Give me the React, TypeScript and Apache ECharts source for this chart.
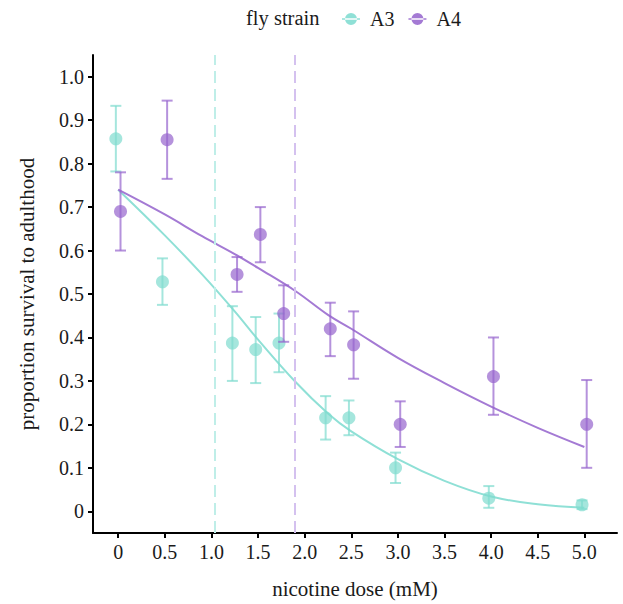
import React, { useEffect, useRef } from "react";
import * as echarts from "echarts";

// ---- data ----
const doses = [0, 0.5, 1.25, 1.5, 1.75, 2.25, 2.5, 3.0, 4.0, 5.0];

const a3Mean = [0.857, 0.528, 0.387, 0.372, 0.387, 0.215, 0.215, 0.1, 0.03, 0.015];
const a3Lo = [0.782, 0.475, 0.3, 0.295, 0.32, 0.165, 0.175, 0.065, 0.008, 0.005];
const a3Hi = [0.933, 0.582, 0.472, 0.447, 0.455, 0.265, 0.255, 0.135, 0.058, 0.025];

const a4Mean = [0.69, 0.855, 0.545, 0.637, 0.455, 0.42, 0.383, 0.2, 0.31, 0.2];
const a4Lo = [0.6, 0.765, 0.505, 0.573, 0.39, 0.357, 0.305, 0.148, 0.222, 0.1];
const a4Hi = [0.78, 0.945, 0.585, 0.7, 0.52, 0.48, 0.46, 0.253, 0.4, 0.302];

const fitX = [0, 0.5, 0.9, 1.25, 1.5, 1.9, 2.25, 2.5, 3.0, 3.5, 4.0, 4.5, 5.0];
const a3Fit = [0.74, 0.635, 0.545, 0.46, 0.395, 0.298, 0.225, 0.184, 0.12, 0.07, 0.034, 0.016, 0.008];
const a4Fit = [0.74, 0.683, 0.633, 0.592, 0.56, 0.507, 0.452, 0.42, 0.353, 0.295, 0.241, 0.192, 0.148];

const a3Ld50 = 1.04;
const a4Ld50 = 1.89;

const xTicks = [0, 0.5, 1, 1.5, 2, 2.5, 3, 3.5, 4, 4.5, 5];
const yTicks = [0, 0.1, 0.2, 0.3, 0.4, 0.5, 0.6, 0.7, 0.8, 0.9, 1.0];

const DODGE = 0.025;
const FONT = "Liberation Serif, Times New Roman, serif";

const TEAL_LINE = "#8fe0d6";
const TEAL_PT = "rgba(127,219,207,0.7)";
const TEAL_DASH = "#bfeee8";
const PURP_LINE = "#a47ad4";
const PURP_PT = "rgba(150,100,205,0.7)";
const PURP_DASH = "#d4c1ef";
const TXT = "#1a1a1a";

const ICON =
  "path://M0,5.2L18,5.2L18,6.8L0,6.8Z M3,6A6,6 0 1 0 15,6A6,6 0 1 0 3,6Z";

function pointSeries(name: string, mean: number[], lo: number[], hi: number[], off: number, col: string) {
  return {
    type: "custom",
    name,
    z: 5,
    itemStyle: { color: col },
    data: doses.map((d, i) => [d + off, mean[i], lo[i], hi[i]]),
    renderItem: (params: any, api: any) => {
      const x = api.value(0);
      const p = api.coord([x, api.value(1)]);
      const pl = api.coord([x, api.value(2)]);
      const ph = api.coord([x, api.value(3)]);
      const cw = 5.5;
      const st = { stroke: col, lineWidth: 2 };
      return {
        type: "group",
        children: [
          { type: "line", shape: { x1: p[0], y1: pl[1], x2: p[0], y2: ph[1] }, style: st },
          { type: "line", shape: { x1: p[0] - cw, y1: pl[1], x2: p[0] + cw, y2: pl[1] }, style: st },
          { type: "line", shape: { x1: p[0] - cw, y1: ph[1], x2: p[0] + cw, y2: ph[1] }, style: st },
          { type: "circle", shape: { cx: p[0], cy: p[1], r: 6.5 }, style: { fill: col } },
        ],
      };
    },
  };
}

function fitSeries(name: string, fit: number[], col: string, ld: number, dash: string) {
  return {
    type: "line",
    name,
    smooth: 0.4,
    showSymbol: false,
    symbol: "none",
    z: 3,
    itemStyle: { color: col },
    lineStyle: { color: col, width: 2 },
    data: fitX.map((x, i) => [x, fit[i]]),
    markLine: {
      silent: true,
      symbol: "none",
      label: { show: false },
      lineStyle: { color: dash, width: 2, type: [12, 6] },
      data: [{ xAxis: ld }],
      animation: false,
    },
  };
}

const fmt = (v: number) => (Math.abs(v) < 1e-9 ? "0" : v.toFixed(1));

export default function App() {
  const ref = useRef<HTMLDivElement>(null);
  useEffect(() => {
    if (!ref.current) return;
    const chart = echarts.init(ref.current, null, { renderer: "svg" });
    const labelStyle = { fontFamily: FONT, fontSize: 20, color: TXT };
    chart.setOption({
      animation: false,
      backgroundColor: "#ffffff",
      textStyle: { fontFamily: FONT },
      graphic: [
        {
          type: "text",
          left: 246,
          top: 7,
          style: { text: "fly strain", fontFamily: FONT, fontSize: 20.5, fill: TXT },
        },
      ],
      legend: {
        left: 337,
        top: 4,
        itemWidth: 18,
        itemHeight: 12,
        itemGap: 14,
        data: [
          { name: "A3", icon: ICON, itemStyle: { color: TEAL_LINE } },
          { name: "A4", icon: ICON, itemStyle: { color: PURP_LINE } },
        ],
        textStyle: { fontFamily: FONT, fontSize: 20, color: TXT, padding: [0, 0, 0, 5] },
      },
      grid: { left: 93, right: 6, top: 55, bottom: 67, containLabel: false },
      xAxis: {
        type: "value",
        min: -0.27,
        max: 5.35,
        name: "nicotine dose (mM)",
        nameLocation: "middle",
        nameGap: 45,
        nameTextStyle: { fontFamily: FONT, fontSize: 21, color: TXT },
        axisLine: { show: true, onZero: false, lineStyle: { color: "#000", width: 2 } },
        axisTick: { show: true, length: 5, lineStyle: { color: "#000", width: 2 }, customValues: xTicks },
        axisLabel: { ...labelStyle, margin: 9, customValues: xTicks, formatter: fmt },
        splitLine: { show: false },
      },
      yAxis: {
        type: "value",
        min: -0.05,
        max: 1.05,
        name: "proportion survival to adulthood",
        nameLocation: "middle",
        nameGap: 56,
        nameRotate: 90,
        nameTextStyle: { fontFamily: FONT, fontSize: 21, color: TXT },
        axisLine: { show: true, onZero: false, lineStyle: { color: "#000", width: 2 } },
        axisTick: { show: true, length: 5, lineStyle: { color: "#000", width: 2 }, customValues: yTicks },
        axisLabel: { ...labelStyle, margin: 9, customValues: yTicks, formatter: fmt },
        splitLine: { show: false },
      },
      series: [
        fitSeries("A3", a3Fit, TEAL_LINE, a3Ld50, TEAL_DASH),
        fitSeries("A4", a4Fit, PURP_LINE, a4Ld50, PURP_DASH),
        pointSeries("A3", a3Mean, a3Lo, a3Hi, -DODGE, TEAL_PT),
        pointSeries("A4", a4Mean, a4Lo, a4Hi, DODGE, PURP_PT),
      ],
    });
    return () => chart.dispose();
  }, []);
  return (
    <div
      ref={ref}
      style={{ position: "absolute", left: 0, top: 0, width: 623, height: 604 }}
    />
  );
}
